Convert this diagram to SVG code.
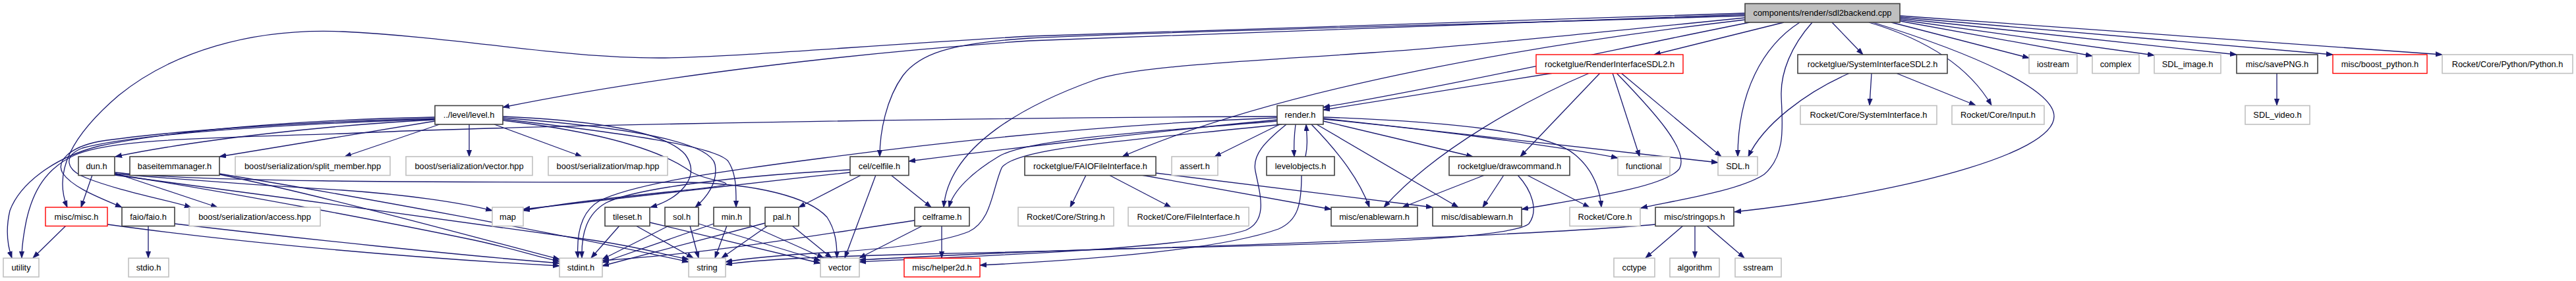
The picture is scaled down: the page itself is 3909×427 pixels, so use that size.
<svg xmlns="http://www.w3.org/2000/svg" width="3909" height="427" viewBox="0 0 3909 427">
<style>
rect{fill:#fff;stroke-width:1.6}
.k rect{stroke:#404040}
.g rect{stroke:#c0c0c0}
.r rect{stroke:#ff0000;stroke-width:1.4}
.root rect{fill:#bfbfbf;stroke:#404040}
text{font-family:"Liberation Sans",Arial,Helvetica,sans-serif;font-size:12.8px;text-anchor:middle;fill:#000}
#edges path{fill:none;stroke:#191970;stroke-width:1.3;marker-end:url(#a)}
</style>
<defs>
<marker id="a" markerWidth="12" markerHeight="9" refX="10" refY="4" orient="auto" markerUnits="userSpaceOnUse">
<path d="M0,0.4 L10,4 L0,7.6 z" fill="#191970" stroke="#191970" stroke-width="0.8"/>
</marker>
</defs>
<rect x="0" y="0" width="3909" height="427" style="fill:#fff;stroke:none"/>
<g id="edges">
<path d="M2707,34 L2510,83"/>
<path d="M2780,34 L2827,83"/>
<path d="M2731,34 C2675,70 2637,140 2637,238"/>
<path d="M2750,34 C2718,70 2702,110 2703,145 C2704,185 2712,235 2677,265 C2640,290 2540,305 2490,316"/>
<path d="M2836,34 C2930,62 2990,105 3022,160"/>
<path d="M2842,34 C2990,80 3117,135 3117,177 C3117,235 2880,295 2632,322"/>
<path d="M2870,34 L3079,88"/>
<path d="M2883,32 L3175,85"/>
<path d="M2883,30 L3269,84"/>
<path d="M2883,28 L3394,83"/>
<path d="M2883,26 L3540,83"/>
<path d="M2883,24 L3706,83"/>
<path d="M2655,34 C2450,75 2200,130 2008,163"/>
<path d="M2648,30 C2350,65 1950,130 1703,238"/>
<path d="M2648,27 C2400,52 2200,72 2082,80 C1900,93 1720,100 1660,122 C1560,158 1440,220 1432,315"/>
<path d="M2648,24 C2200,38 1750,48 1562,58 C1440,66 1395,82 1370,115 C1345,150 1335,200 1335,238"/>
<path d="M2648,22 C2200,36 1800,50 1562,62 C1300,80 1000,115 763,163"/>
<path d="M2648,20 C2200,33 1800,45 1562,55 C1300,70 1100,88 1000,88 C850,88 700,57 520,48 C380,42 260,80 180,145 C110,205 80,260 102,315"/>
<path d="M2357,111 L2008,167"/>
<path d="M2412,111 C2320,150 2180,225 2100,315"/>
<path d="M2428,111 L2307,238"/>
<path d="M2447,111 L2488,238"/>
<path d="M2453,111 C2510,170 2565,230 2548,257 C2525,285 2400,302 2309,318"/>
<path d="M2460,111 L2612,238"/>
<path d="M2807,111 C2740,140 2675,190 2653,238"/>
<path d="M2840,111 L2837,160"/>
<path d="M2877,111 L2998,160"/>
<path d="M3455,111 L3455,160"/>
<path d="M1942,189 L1843,238"/>
<path d="M1966,189 C1964,205 1963,220 1964,238"/>
<path d="M1981,238 C1985,220 1983,205 1982,189"/>
<path d="M1938,182 C1800,195 1560,222 1379,245"/>
<path d="M1938,184 C1750,200 1560,210 1515,238 C1475,262 1446,290 1440,315"/>
<path d="M1938,179 C1650,190 1400,220 1250,240 C1080,262 960,280 910,305 C880,322 875,360 877,392"/>
<path d="M1938,177 C1600,178 1200,185 1040,188 C800,193 620,198 522,203 C300,210 170,212 115,235 C70,255 50,290 40,335 C35,360 33,380 33,392"/>
<path d="M1952,189 C1920,215 1900,235 1905,260 C1912,295 1925,335 1890,350 C1800,378 1500,388 1304,398"/>
<path d="M1945,189 C1700,215 1540,225 1520,255 C1505,290 1505,335 1470,352 C1420,372 1320,380 1250,384 C1180,388 1130,393 1101,398"/>
<path d="M1990,189 C2020,220 2060,265 2078,315"/>
<path d="M1998,189 L2213,315"/>
<path d="M2008,184 L2235,238"/>
<path d="M2008,181 C2200,200 2380,225 2455,240"/>
<path d="M2008,178 C2200,185 2350,200 2390,235 C2420,260 2428,290 2430,315"/>
<path d="M2008,180 L2607,247"/>
<path d="M660,182 C500,190 300,212 175,238"/>
<path d="M660,184 L333,238"/>
<path d="M667,189 L523,238"/>
<path d="M712,189 L712,238"/>
<path d="M750,189 L883,238"/>
<path d="M660,178 C450,182 250,200 150,222 C80,240 30,280 15,320 C8,350 12,375 18,392"/>
<path d="M660,180 C450,185 250,200 150,215 C105,224 85,245 95,263 C110,285 150,300 185,315"/>
<path d="M660,181 C400,190 200,205 125,225 C95,237 100,258 130,270 C180,290 250,303 290,315"/>
<path d="M763,177 C900,183 1010,200 1040,235 C1065,270 1030,302 987,315"/>
<path d="M763,179 C950,193 1078,215 1085,250 C1090,278 1072,300 1055,315"/>
<path d="M763,181 C950,203 1085,222 1105,245 C1118,265 1117,290 1117,315"/>
<path d="M763,183 C950,205 1020,240 1050,262 C1075,275 1110,276 1100,281 C1080,287 900,300 794,320"/>
<path d="M140,266 L123,315"/>
<path d="M174,263 L330,315"/>
<path d="M174,262 C300,276 600,277 1040,277 C1150,279 1228,300 1255,330 C1268,350 1270,370 1270,392"/>
<path d="M174,264 C300,275 450,285 520,289 C620,296 700,308 747,320"/>
<path d="M174,265 C350,292 600,340 720,365 C780,378 815,390 849,397"/>
<path d="M174,266 C400,295 750,345 900,365 C980,377 1010,388 1045,394"/>
<path d="M333,265 C500,300 700,355 849,394"/>
<path d="M333,264 C550,300 850,355 1045,398"/>
<path d="M100,343 L50,392"/>
<path d="M163,341 C300,360 550,388 849,404"/>
<path d="M225,343 L225,392"/>
<path d="M265,340 C450,362 700,388 849,400"/>
<path d="M940,343 L897,392"/>
<path d="M965,343 L1052,392"/>
<path d="M986,338 L1245,400"/>
<path d="M1015,343 L914,394"/>
<path d="M1047,343 L1060,392"/>
<path d="M1060,340 L1245,396"/>
<path d="M1083,340 L914,399"/>
<path d="M1103,343 L1085,392"/>
<path d="M1138,342 L1250,392"/>
<path d="M1161,339 L914,404"/>
<path d="M1165,343 L1095,392"/>
<path d="M1202,343 L1262,392"/>
<path d="M1307,266 L1212,315"/>
<path d="M1329,266 L1282,392"/>
<path d="M1352,266 L1413,315"/>
<path d="M1290,258 C1100,268 960,288 920,308 C890,325 882,355 883,392"/>
<path d="M1290,262 C1100,282 900,305 794,318"/>
<path d="M1429,343 L1429,392"/>
<path d="M1400,343 L1304,392"/>
<path d="M1388,335 C1250,355 1100,383 914,396"/>
<path d="M1648,266 L1624,315"/>
<path d="M1683,266 L1777,315"/>
<path d="M1732,266 L2020,318"/>
<path d="M1754,263 L2174,315"/>
<path d="M1975,266 C1975,310 1970,335 1940,348 C1850,380 1650,395 1487,403"/>
<path d="M2253,266 L2128,315"/>
<path d="M2282,266 L2250,315"/>
<path d="M2317,266 L2412,315"/>
<path d="M2303,266 C2325,290 2335,320 2320,340 C2290,365 2000,372 1700,378 C1500,384 1400,390 1304,395"/>
<path d="M2554,343 L2497,392"/>
<path d="M2572,343 L2572,392"/>
<path d="M2590,343 L2647,392"/>
<path d="M2512,341 C2300,360 1700,380 1400,386 C1250,390 1150,394 1101,402"/>
</g>
<g id="n_root" class="root"><rect x="2648" y="5.5" width="235" height="28.5"/><text x="2765.5" y="23.5">components/render/sdl2backend.cpp</text></g>
<g id="n_ri" class="r"><rect x="2331" y="83" width="223" height="28.5"/><text x="2442.5" y="101.5">rocketglue/RenderInterfaceSDL2.h</text></g>
<g id="n_si" class="k"><rect x="2728" y="83" width="227" height="28.5"/><text x="2841.5" y="101.5">rocketglue/SystemInterfaceSDL2.h</text></g>
<g id="n_iostream" class="g"><rect x="3079" y="83" width="73" height="28.5"/><text x="3115.5" y="101.5">iostream</text></g>
<g id="n_complex" class="g"><rect x="3175" y="83" width="71" height="28.5"/><text x="3210.5" y="101.5">complex</text></g>
<g id="n_sdlimage" class="g"><rect x="3269" y="83" width="101" height="28.5"/><text x="3319.5" y="101.5">SDL_image.h</text></g>
<g id="n_savepng" class="k"><rect x="3394" y="83" width="123" height="28.5"/><text x="3455.5" y="101.5">misc/savePNG.h</text></g>
<g id="n_boostpy" class="r"><rect x="3540" y="83" width="143" height="28.5"/><text x="3611.5" y="101.5">misc/boost_python.h</text></g>
<g id="n_python" class="g"><rect x="3706" y="83" width="198" height="28.5"/><text x="3805" y="101.5">Rocket/Core/Python/Python.h</text></g>
<g id="n_level" class="k"><rect x="660" y="160.5" width="103" height="28.5"/><text x="711.5" y="179">../level/level.h</text></g>
<g id="n_render" class="k"><rect x="1938" y="160.5" width="70" height="28.5"/><text x="1973" y="179">render.h</text></g>
<g id="n_sysif" class="g"><rect x="2732" y="160.5" width="207" height="28.5"/><text x="2835.5" y="179">Rocket/Core/SystemInterface.h</text></g>
<g id="n_input" class="g"><rect x="2962" y="160.5" width="140" height="28.5"/><text x="3032" y="179">Rocket/Core/Input.h</text></g>
<g id="n_sdlvideo" class="g"><rect x="3407" y="160.5" width="98" height="28.5"/><text x="3456" y="179">SDL_video.h</text></g>
<g id="n_dun" class="k"><rect x="119" y="238" width="55" height="28.5"/><text x="146.5" y="256.5">dun.h</text></g>
<g id="n_bim" class="k"><rect x="197" y="238" width="136" height="28.5"/><text x="265" y="256.5">baseitemmanager.h</text></g>
<g id="n_split" class="g"><rect x="357" y="238" width="235" height="28.5"/><text x="474.5" y="256.5">boost/serialization/split_member.hpp</text></g>
<g id="n_vechpp" class="g"><rect x="616" y="238" width="192" height="28.5"/><text x="712" y="256.5">boost/serialization/vector.hpp</text></g>
<g id="n_maphpp" class="g"><rect x="832" y="238" width="181" height="28.5"/><text x="922.5" y="256.5">boost/serialization/map.hpp</text></g>
<g id="n_celfile" class="k"><rect x="1290" y="238" width="89" height="28.5"/><text x="1334.5" y="256.5">cel/celfile.h</text></g>
<g id="n_faiofi" class="k"><rect x="1555" y="238" width="199" height="28.5"/><text x="1654.5" y="256.5">rocketglue/FAIOFileInterface.h</text></g>
<g id="n_assert" class="g"><rect x="1778" y="238" width="70" height="28.5"/><text x="1813" y="256.5">assert.h</text></g>
<g id="n_levelobj" class="k"><rect x="1922" y="238" width="103" height="28.5"/><text x="1973.5" y="256.5">levelobjects.h</text></g>
<g id="n_drawcmd" class="k"><rect x="2199" y="238" width="183" height="28.5"/><text x="2290.5" y="256.5">rocketglue/drawcommand.h</text></g>
<g id="n_functional" class="g"><rect x="2455" y="238" width="79" height="28.5"/><text x="2494.5" y="256.5">functional</text></g>
<g id="n_sdl" class="g"><rect x="2607" y="238" width="60" height="28.5"/><text x="2637" y="256.5">SDL.h</text></g>
<g id="n_misc" class="r"><rect x="69" y="315" width="94" height="28.5"/><text x="116" y="333.5">misc/misc.h</text></g>
<g id="n_faio" class="k"><rect x="185" y="315" width="80" height="28.5"/><text x="225" y="333.5">faio/faio.h</text></g>
<g id="n_access" class="g"><rect x="287" y="315" width="199" height="28.5"/><text x="386.5" y="333.5">boost/serialization/access.hpp</text></g>
<g id="n_map" class="g"><rect x="747" y="315" width="47" height="28.5"/><text x="770.5" y="333.5">map</text></g>
<g id="n_tileset" class="k"><rect x="918" y="315" width="68" height="28.5"/><text x="952" y="333.5">tileset.h</text></g>
<g id="n_sol" class="k"><rect x="1009" y="315" width="51" height="28.5"/><text x="1034.5" y="333.5">sol.h</text></g>
<g id="n_min" class="k"><rect x="1083" y="315" width="55" height="28.5"/><text x="1110.5" y="333.5">min.h</text></g>
<g id="n_pal" class="k"><rect x="1161" y="315" width="51" height="28.5"/><text x="1186.5" y="333.5">pal.h</text></g>
<g id="n_celframe" class="k"><rect x="1388" y="315" width="83" height="28.5"/><text x="1429.5" y="333.5">celframe.h</text></g>
<g id="n_rstring" class="g"><rect x="1545" y="315" width="145" height="28.5"/><text x="1617.5" y="333.5">Rocket/Core/String.h</text></g>
<g id="n_rfileif" class="g"><rect x="1712" y="315" width="183" height="28.5"/><text x="1803.5" y="333.5">Rocket/Core/FileInterface.h</text></g>
<g id="n_enable" class="k"><rect x="2020" y="315" width="131" height="28.5"/><text x="2085.5" y="333.5">misc/enablewarn.h</text></g>
<g id="n_disable" class="k"><rect x="2174" y="315" width="135" height="28.5"/><text x="2241.5" y="333.5">misc/disablewarn.h</text></g>
<g id="n_core" class="g"><rect x="2382" y="315" width="107" height="28.5"/><text x="2435.5" y="333.5">Rocket/Core.h</text></g>
<g id="n_stringops" class="k"><rect x="2512" y="315" width="119" height="28.5"/><text x="2571.5" y="333.5">misc/stringops.h</text></g>
<g id="n_utility" class="g"><rect x="5" y="392.3" width="54" height="28.5"/><text x="32" y="410.8">utility</text></g>
<g id="n_stdio" class="g"><rect x="195" y="392.3" width="61" height="28.5"/><text x="225.5" y="410.8">stdio.h</text></g>
<g id="n_stdint" class="g"><rect x="849" y="392.3" width="65" height="28.5"/><text x="881.5" y="410.8">stdint.h</text></g>
<g id="n_string" class="g"><rect x="1045" y="392.3" width="56" height="28.5"/><text x="1073" y="410.8">string</text></g>
<g id="n_vector" class="g"><rect x="1245" y="392.3" width="59" height="28.5"/><text x="1274.5" y="410.8">vector</text></g>
<g id="n_helper2d" class="r"><rect x="1372" y="392.3" width="115" height="28.5"/><text x="1429.5" y="410.8">misc/helper2d.h</text></g>
<g id="n_cctype" class="g"><rect x="2449" y="392.3" width="62" height="28.5"/><text x="2480" y="410.8">cctype</text></g>
<g id="n_algorithm" class="g"><rect x="2534" y="392.3" width="75" height="28.5"/><text x="2571.5" y="410.8">algorithm</text></g>
<g id="n_sstream" class="g"><rect x="2633" y="392.3" width="70" height="28.5"/><text x="2668" y="410.8">sstream</text></g>
</svg>
